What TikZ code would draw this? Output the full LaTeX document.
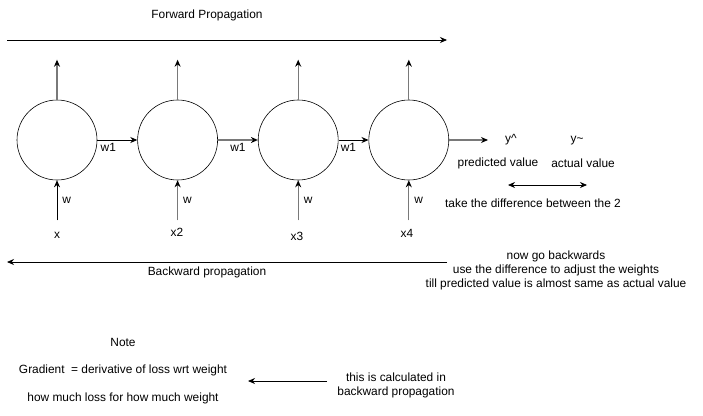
\documentclass[tikz,border=0pt]{standalone}
\usepackage{fontspec}
\setmainfont{Liberation Sans}
\usetikzlibrary{shapes,arrows,arrows.meta,positioning}

\begin{document}
\begin{tikzpicture}[->,>={Stealth[length=7pt,width=6pt]}, line width=0.8pt,
x=1pt, y=-1pt, node distance=40pt, font=\fontsize{11.9}{14}\selectfont]
\tikzset{neuron/.style={circle, draw, minimum size=80pt, inner sep=0pt, line width=0.6pt},
faded/.style={draw=gray!95!black, -{Stealth[black,length=7pt,width=6pt]}, line width=1.2pt},
txt/.style={inner sep=1pt, align=center}}
\useasboundingbox (0,0) rectangle (703,415);

\node [txt] (fwd) at (207,15) {Forward Propagation};
\coordinate (fs) at (7,40);
\coordinate (fe) at (447,40);
\draw (fs) -- (fe);

\node [neuron] (one) at (57,140) {};
\node [neuron] (two) [right=of one] {};
\node [neuron] (three) [right=of two] {};
\node [neuron] (four) [right=30pt of three] {};

\foreach \n in {one,two,three,four} {
  \coordinate (\n-up) at ([yshift=40pt]\n.north);
  \draw [faded] (\n.north) -- (\n-up);
  \coordinate (\n-in) at ([yshift=-40pt]\n.south);
}
\draw (one-in) -- node [right, txt, xshift=4pt] {w} (one.south);
\draw [faded] (two-in) -- node [right, txt, xshift=4pt] {w} (two.south);
\draw [faded] (three-in) -- node [right, txt, xshift=4pt] {w} (three.south);
\draw [faded] (four-in) -- node [right, txt, xshift=4pt] {w} (four.south);

\node [txt] (xa) at (57,235) {x};
\node [txt] (xb) at (177,232) {x2};
\node [txt] (xc) at (297,236) {x3};
\node [txt] (xd) at (407,233) {x4};

\draw (one) -- node [pos=0, below right, txt, xshift=2pt, yshift=-2pt] {w1} (two);
\draw [faded] (two) -- node [below, txt, yshift=-2pt] {w1} (three);
\draw (three) -- node [pos=0, below right, txt, xshift=1pt, yshift=-2pt] {w1} (four);

\coordinate (out) at (488,140);
\draw [faded] (four) -- (out);
\node [txt] (yhat) at (511,140) {y\textasciicircum};
\node [txt] (ytil) at (577,141) {y\textasciitilde};
\node [txt] (pred) at (498,163) {predicted value};
\node [txt] (act) at (583,163) {actual value};
\coordinate (da) at (508,185);
\coordinate (db) at (587,185);
\draw [<->] (da) -- (db);
\node [txt] (diff) at (533,203) {take the difference between the 2};

\coordinate (bs) at (447,262);
\coordinate (be) at (7,262);
\draw (bs) -- (be);
\node [txt] (bwd) at (207,272) {Backward propagation};
\node [txt] (steps) at (556,270) {now go backwards\\use the difference to adjust the weights\\till predicted value is almost same as actual value};

\node [txt] (note) at (123,342) {Note};
\node [txt] (grad) at (123,370) {Gradient\ \ = derivative of loss wrt weight};
\node [txt] (howm) at (123,398) {how much loss for how much weight};
\node [txt] (calc) at (396,385) {this is calculated in\\backward propagation};
\coordinate (ga) at (327,381);
\coordinate (gb) at (248,381);
\draw (ga) -- (gb);
\end{tikzpicture}
\end{document}
